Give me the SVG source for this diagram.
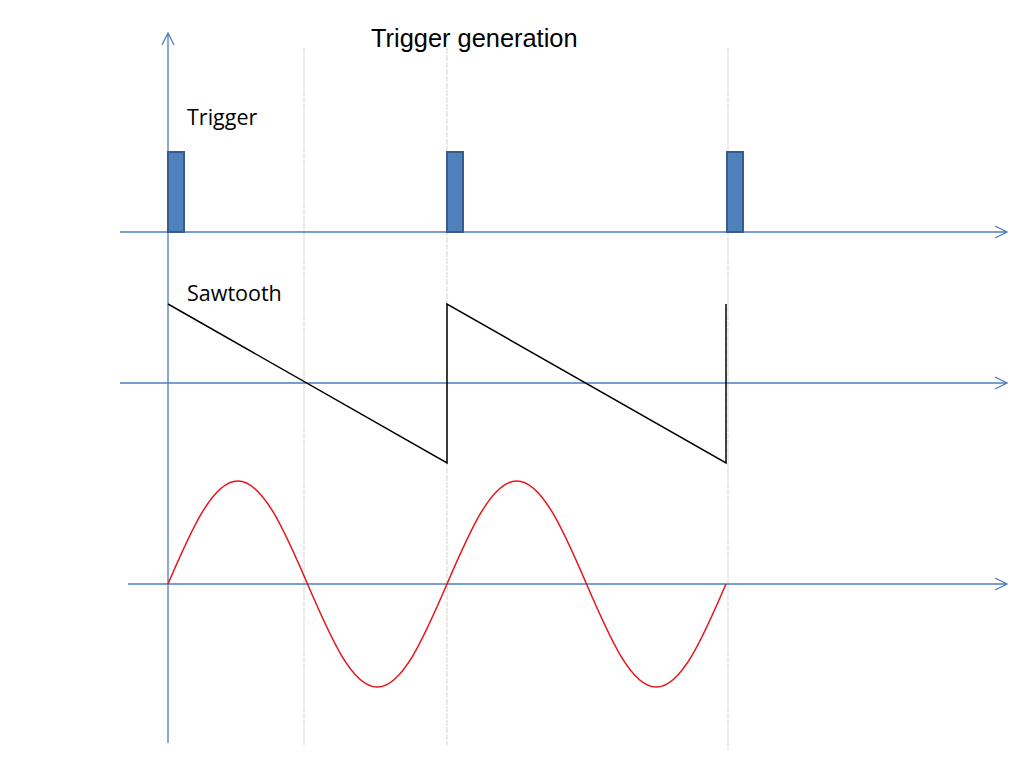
<svg xmlns="http://www.w3.org/2000/svg" width="1024" height="768" viewBox="0 0 1024 768">
<defs>
<style>
.axis{stroke:#4a7ebb;stroke-width:1.3;fill:none}
.grid{stroke:#dcdcd2;stroke-width:1.2;stroke-dasharray:6,1;fill:none}
.pulse{fill:#4f81bd;stroke:#385d8a;stroke-width:2}
.saw{stroke:#000;stroke-width:1.5;fill:none}
.sine{stroke:#e8141b;stroke-width:1.5;fill:none}
.lbl{font-family:"Open Sans","Noto Sans","DejaVu Sans",sans-serif;font-size:21.5px;fill:#000}
.title{font-family:"Liberation Sans",Arial,sans-serif;font-size:25.4px;fill:#000}
</style>
<marker id="arr" viewBox="0 0 14 14" refX="13" refY="7" markerWidth="14" markerHeight="14" markerUnits="userSpaceOnUse" orient="auto">
<path d="M1,1 L13,7 L1,13" fill="none" stroke="#4a7ebb" stroke-width="1.3"/>
</marker>
</defs>
<rect width="1024" height="768" fill="#fff"/>
<g id="gridlines">
<line class="grid" x1="304" y1="48" x2="304" y2="745"/>
<line class="grid" x1="447" y1="48" x2="447" y2="745"/>
<line class="grid" x1="728" y1="48" x2="728" y2="750"/>
</g>
<g id="connectors">
<line class="axis" x1="168" y1="743" x2="168" y2="33" marker-end="url(#arr)"/>
<line class="axis" x1="120" y1="232" x2="1007" y2="232" marker-end="url(#arr)"/>
<line class="axis" x1="120" y1="383" x2="1007" y2="383" marker-end="url(#arr)"/>
<line class="axis" x1="128" y1="584" x2="1007" y2="584" marker-end="url(#arr)"/>
</g>
<g id="trigger">
<rect class="pulse" x="168" y="152" width="16" height="80"/>
<rect class="pulse" x="447" y="152" width="16" height="80"/>
<rect class="pulse" x="727" y="152" width="16" height="80"/>
</g>
<g id="sawtooth">
<path class="saw" d="M168,304 L447,463 L447,304 L726,463 L726,304"/>
</g>
<g id="sine">
<path class="sine" d="M168,584 C190.7,531.3 212.5,481 237.75,481 C263,481 284.8,531.3 307.5,584 C330.2,636.7 352,687 377.25,687 C402.5,687 424.3,636.7 447,584 C469.7,531.3 491.5,481 516.75,481 C542,481 563.8,531.3 586.5,584 C609.2,636.7 631,687 656.25,687 C681.5,687 703.3,636.7 726,584"/>
</g>
<g id="labels">
<text class="title" x="371" y="47">Trigger generation</text>
<text class="lbl" x="187" y="125">Trigger</text>
<text class="lbl" x="187" y="301">Sawtooth</text>
</g>
</svg>
